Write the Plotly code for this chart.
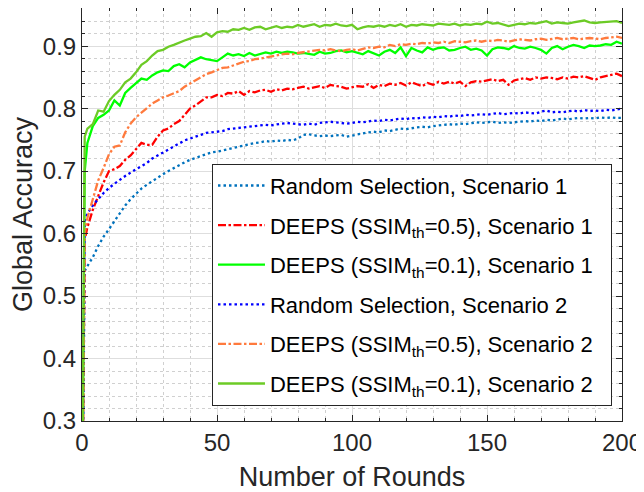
import plotly.graph_objects as go

rounds = [0, 1] + list(range(2, 201, 2))

random_s1 = [0.10, 0.540,
    0.548, 0.562, 0.580, 0.595, 0.607, 0.620, 0.632, 0.645, 0.655, 0.664,
    0.672, 0.678, 0.684, 0.690, 0.695, 0.700, 0.705, 0.710, 0.714, 0.718,
    0.721, 0.724, 0.727, 0.730, 0.731, 0.733, 0.736, 0.738, 0.740, 0.742,
    0.743, 0.745, 0.746, 0.748, 0.747, 0.749, 0.748, 0.750, 0.749, 0.752,
    0.758, 0.759, 0.757, 0.756, 0.757, 0.756, 0.757, 0.758, 0.755, 0.757,
    0.759, 0.761, 0.762, 0.763, 0.762, 0.765, 0.764, 0.766, 0.768, 0.767,
    0.769, 0.770, 0.771, 0.770, 0.772, 0.773, 0.774, 0.775, 0.774, 0.776,
    0.775, 0.777, 0.778, 0.777, 0.778, 0.779, 0.777, 0.778, 0.777, 0.778,
    0.779, 0.780, 0.779, 0.781, 0.780, 0.782, 0.781, 0.783, 0.784, 0.783,
    0.784, 0.785, 0.784, 0.785, 0.784, 0.786, 0.785, 0.786, 0.785, 0.785]

deeps05_s1 = [0.10, 0.590,
    0.610, 0.638, 0.660, 0.682, 0.700, 0.703, 0.708, 0.718, 0.725, 0.735,
    0.745, 0.742, 0.742, 0.755, 0.765, 0.768, 0.775, 0.780, 0.790, 0.800,
    0.805, 0.812, 0.818, 0.818, 0.822, 0.820, 0.825, 0.824, 0.828, 0.822,
    0.828, 0.826, 0.829, 0.830, 0.827, 0.831, 0.829, 0.832, 0.831, 0.833,
    0.835, 0.832, 0.834, 0.836, 0.833, 0.838, 0.836, 0.835, 0.832, 0.834,
    0.836, 0.835, 0.839, 0.833, 0.838, 0.836, 0.840, 0.838, 0.841, 0.837,
    0.842, 0.839, 0.836, 0.841, 0.838, 0.843, 0.840, 0.843, 0.840, 0.843,
    0.836, 0.842, 0.844, 0.843, 0.845, 0.847, 0.844, 0.846, 0.838, 0.845,
    0.847, 0.849, 0.846, 0.850, 0.848, 0.850, 0.849, 0.847, 0.850, 0.848,
    0.851, 0.850, 0.852, 0.849, 0.846, 0.850, 0.852, 0.855, 0.856, 0.852]

deeps01_s1 = [0.10, 0.700,
    0.745, 0.772, 0.785, 0.790, 0.797, 0.813, 0.805, 0.825, 0.833, 0.840,
    0.848, 0.846, 0.853, 0.858, 0.861, 0.860, 0.868, 0.871, 0.866, 0.874,
    0.878, 0.882, 0.879, 0.877, 0.876, 0.882, 0.888, 0.885, 0.887, 0.884,
    0.889, 0.885, 0.887, 0.890, 0.888, 0.891, 0.889, 0.891, 0.890, 0.888,
    0.889, 0.887, 0.886, 0.891, 0.888, 0.889, 0.892, 0.893, 0.890, 0.892,
    0.889, 0.887, 0.892, 0.889, 0.885, 0.891, 0.894, 0.889, 0.898, 0.884,
    0.897, 0.893, 0.890, 0.898, 0.894, 0.897, 0.898, 0.893, 0.894, 0.897,
    0.899, 0.894, 0.896, 0.893, 0.885, 0.895, 0.898, 0.897, 0.895, 0.900,
    0.897, 0.896, 0.899, 0.897, 0.894, 0.888, 0.897, 0.900, 0.895, 0.899,
    0.902, 0.900, 0.897, 0.901, 0.900, 0.901, 0.903, 0.902, 0.907, 0.904]

random_s2 = [0.10, 0.620,
    0.632, 0.645, 0.655, 0.665, 0.673, 0.680, 0.686, 0.692, 0.698, 0.703,
    0.708, 0.713, 0.720, 0.725, 0.730, 0.735, 0.740, 0.745, 0.749, 0.752,
    0.755, 0.758, 0.761, 0.762, 0.763, 0.764, 0.767, 0.768, 0.768, 0.770,
    0.771, 0.772, 0.772, 0.774, 0.773, 0.775, 0.776, 0.777, 0.776, 0.775,
    0.774, 0.776, 0.774, 0.777, 0.778, 0.779, 0.778, 0.777, 0.776, 0.777,
    0.779, 0.778, 0.780, 0.781, 0.780, 0.782, 0.781, 0.783, 0.784, 0.783,
    0.785, 0.784, 0.786, 0.785, 0.787, 0.786, 0.788, 0.787, 0.789, 0.788,
    0.790, 0.789, 0.790, 0.791, 0.790, 0.791, 0.793, 0.791, 0.792, 0.793,
    0.792, 0.794, 0.793, 0.792, 0.795, 0.797, 0.794, 0.795, 0.794, 0.796,
    0.797, 0.795, 0.798, 0.796, 0.797, 0.796, 0.798, 0.797, 0.799, 0.800]

deeps05_s2 = [0.10, 0.600,
    0.625, 0.655, 0.685, 0.705, 0.727, 0.739, 0.741, 0.762, 0.776, 0.786,
    0.793, 0.800, 0.808, 0.813, 0.818, 0.821, 0.825, 0.828, 0.835, 0.840,
    0.845, 0.850, 0.855, 0.858, 0.861, 0.865, 0.866, 0.869, 0.872, 0.875,
    0.876, 0.879, 0.880, 0.882, 0.884, 0.885, 0.887, 0.888, 0.887, 0.889,
    0.890, 0.891, 0.892, 0.894, 0.893, 0.895, 0.893, 0.892, 0.894, 0.895,
    0.893, 0.896, 0.898, 0.897, 0.899, 0.898, 0.902, 0.900, 0.903, 0.902,
    0.904, 0.903, 0.905, 0.904, 0.906, 0.905, 0.907, 0.905, 0.908, 0.907,
    0.906, 0.908, 0.909, 0.907, 0.909, 0.908, 0.910, 0.909, 0.907, 0.909,
    0.911, 0.910, 0.909, 0.911, 0.912, 0.910, 0.911, 0.913, 0.911, 0.912,
    0.913, 0.911, 0.912, 0.913, 0.912, 0.911, 0.913, 0.914, 0.915, 0.913]

deeps01_s2 = [0.10, 0.755,
    0.768, 0.775, 0.797, 0.795, 0.812, 0.822, 0.830, 0.842, 0.848, 0.858,
    0.870, 0.876, 0.885, 0.892, 0.894, 0.899, 0.902, 0.906, 0.909, 0.912,
    0.915, 0.916, 0.921, 0.915, 0.922, 0.924, 0.923, 0.927, 0.926, 0.929,
    0.926, 0.930, 0.931, 0.927, 0.930, 0.932, 0.929, 0.931, 0.930, 0.934,
    0.931, 0.933, 0.935, 0.931, 0.934, 0.933, 0.936, 0.933, 0.932, 0.934,
    0.927, 0.930, 0.932, 0.931, 0.933, 0.931, 0.934, 0.932, 0.935, 0.931,
    0.934, 0.933, 0.935, 0.934, 0.933, 0.936, 0.935, 0.934, 0.936, 0.933,
    0.935, 0.934, 0.936, 0.935, 0.939, 0.936, 0.937, 0.935, 0.932, 0.934,
    0.936, 0.935, 0.937, 0.936, 0.938, 0.940, 0.936, 0.938, 0.937, 0.936,
    0.938, 0.940, 0.941, 0.938, 0.937, 0.938, 0.939, 0.939, 0.940, 0.937]

names = [
    "Random Selection, Scenario 1",
    "DEEPS (SSIM<sub>th</sub>=0.5), Scenario 1",
    "DEEPS (SSIM<sub>th</sub>=0.1), Scenario 1",
    "Random Selection, Scenario 2",
    "DEEPS (SSIM<sub>th</sub>=0.5), Scenario 2",
    "DEEPS (SSIM<sub>th</sub>=0.1), Scenario 2",
]
series = [random_s1, deeps05_s1, deeps01_s1, random_s2, deeps05_s2, deeps01_s2]
colors = ["#0072BD", "#FF0000", "#00FF00", "#0000FF", "#FF7A3D", "#6CCB26"]
dot = "2.5px,3px"
dashdot = "8px,2.5px,2.5px,2.5px"
dashes = [dot, dashdot, "solid", dot, dashdot, "solid"]

fig = go.Figure()
for i, (name, ys, c, d) in enumerate(zip(names, series, colors, dashes)):
    fig.add_trace(go.Scatter(x=rounds, y=ys, mode="lines",
                             name=name + "\u00a0\u00a0",
                             legendgroup="g%d" % i,
                             line=dict(color=c, width=2.3, dash=d)))

font = "Liberation Sans, Arial, sans-serif"
axis_common = dict(
    automargin=False,
    showline=True, linecolor="#262626", linewidth=1, mirror="ticks",
    ticks="inside", ticklen=6, tickcolor="#262626",
    showgrid=True, gridcolor="#dedede", gridwidth=1, zeroline=False,
    tickfont=dict(size=24, color="#262626", family=font),
)
fig.update_xaxes(range=[0, 200], tickvals=[0, 50, 100, 150, 200],
                 title=dict(text="Number of Rounds", font=dict(size=27, color="#262626", family=font), standoff=12),
                 minor=dict(dtick=10, showgrid=True, gridcolor="#d0d0d0", griddash="dot",
                            ticks="inside", ticklen=3, tickcolor="#262626"),
                 **axis_common)
fig.update_yaxes(range=[0.3, 0.961], tickvals=[0.3, 0.4, 0.5, 0.6, 0.7, 0.8, 0.9],
                 tickformat=".1f",
                 title=dict(text="Global Accuracy", font=dict(size=27, color="#262626", family=font), standoff=15),
                 minor=dict(dtick=0.02, showgrid=True, gridcolor="#d0d0d0", griddash="dot",
                            ticks="inside", ticklen=3, tickcolor="#262626"),
                 **axis_common)

# page body has an 8px margin, so the figure is 8px smaller than the window
fig.update_layout(
    width=636, height=484,
    margin=dict(l=74, r=22, t=0, b=71),
    paper_bgcolor="white", plot_bgcolor="white",
    font=dict(family=font, color="#000000"),
    legend=dict(x=0.2407, y=0.623, xanchor="left", yanchor="top",
                bgcolor="white", bordercolor="#262626", borderwidth=1,
                font=dict(size=22, color="#000000", family=font),
                itemwidth=47, tracegroupgap=8),
    showlegend=True,
)

fig.write_html("out.html")
